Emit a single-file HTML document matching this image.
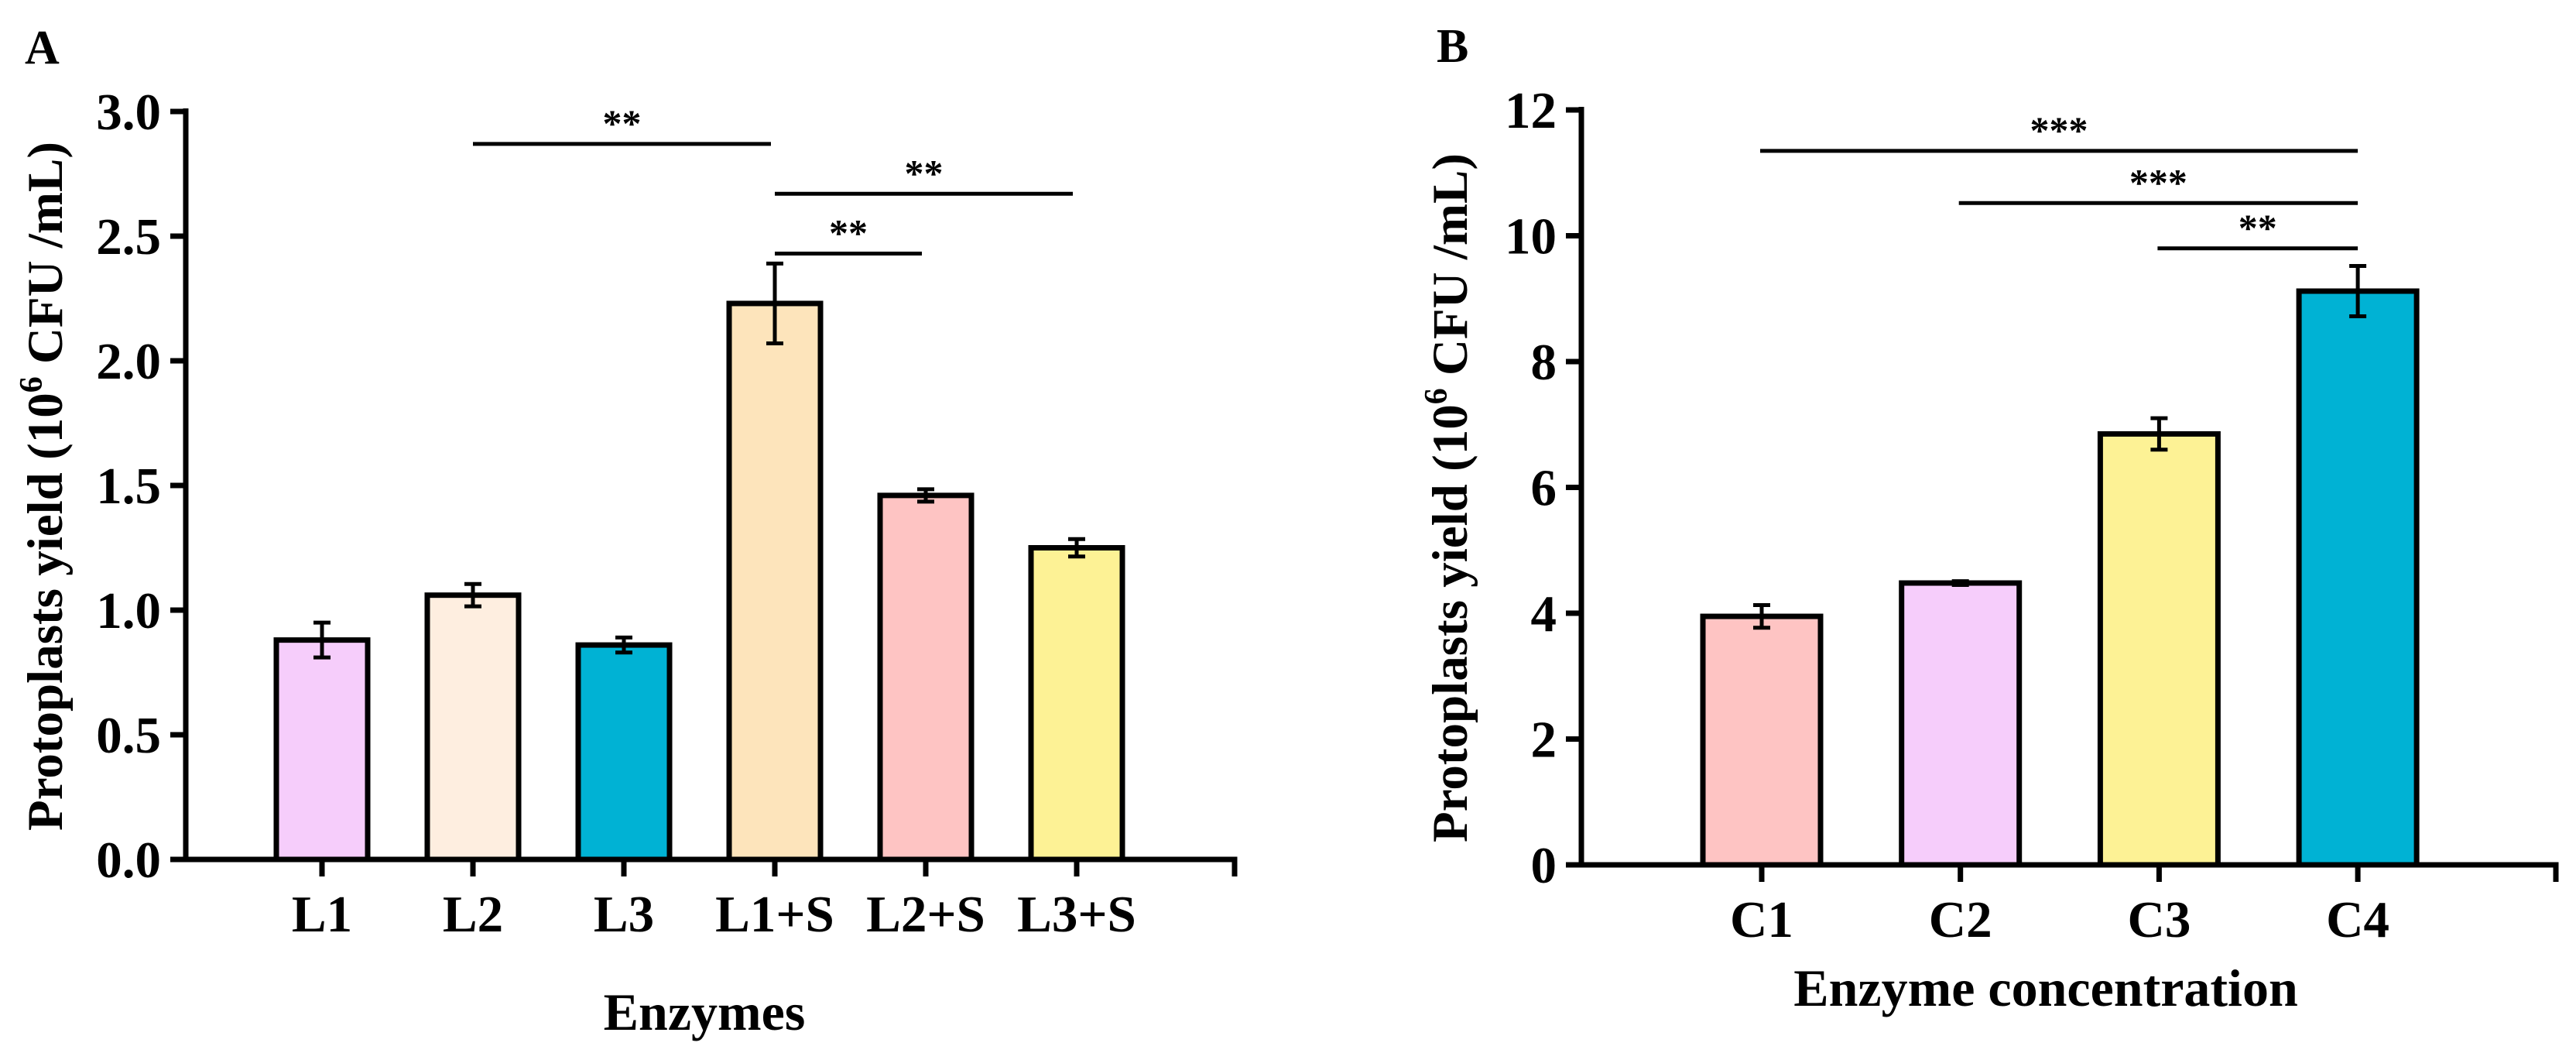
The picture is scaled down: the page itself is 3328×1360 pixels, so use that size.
<!DOCTYPE html>
<html><head><meta charset="utf-8"><style>
html,body{margin:0;padding:0;background:#fff;}
svg{display:block;}
text{font-family:"Liberation Serif",serif;font-weight:bold;fill:#000;}
</style></head><body>
<svg id="chart" width="3328" height="1360" viewBox="0 0 3328 1360" xmlns="http://www.w3.org/2000/svg"></svg>
<script>
const catsA = ["L1","L2","L3","L1+S","L2+S","L3+S"];
const valsA = [0.88,1.06,0.86,2.23,1.46,1.25];
const errA = [0.07,0.045,0.03,0.16,0.025,0.035];
const colorsA = ["#f6cdfb","#feeee0","#00b2d4","#fde4bb","#fec4c3","#fdf295"];
const ticksA = ["0.0","0.5","1.0","1.5","2.0","2.5","3.0"];
const sigA = [[1,3,2.87,"**"],[3,5,2.67,"**"],[3,4,2.43,"**"]];

const catsB = ["C1","C2","C3","C4"];
const valsB = [3.95,4.48,6.85,9.12];
const errB = [0.18,0.03,0.25,0.4];
const colorsB = ["#fec4c3","#f6cdfb","#fdf295","#00b2d4"];
const ticksB = ["0","2","4","6","8","10","12"];
const sigB = [[0,3,11.35,"***"],[1,3,10.52,"***"],[2,3,9.8,"**"]];

const NS="http://www.w3.org/2000/svg";
const svg=document.getElementById('chart');
function mk(tag,attrs,parent){const e=document.createElementNS(NS,tag);for(const k in attrs)e.setAttribute(k,attrs[k]);(parent||svg).appendChild(e);return e;}

function panel(cfg){
  const g=mk('g',{});
  
  
  const y=v=>cfg.y0-(v/cfg.max)*(cfg.y0-cfg.yTop);
  const x=i=>cfg.x0+cfg.first+i*cfg.step;
  cfg.vals.forEach((v,i)=>{
    const r=mk('rect',{x:x(i)-cfg.bw/2,y:y(v),width:cfg.bw,height:cfg.y0-y(v),fill:cfg.colors[i],stroke:'#000','stroke-width':7},g);
    
    
    const e=cfg.err[i];
    const eb=mk('path',{d:`M${x(i)},${y(v+e)}V${y(v-e)}M${x(i)-11},${y(v+e)}H${x(i)+11}M${x(i)-11},${y(v-e)}H${x(i)+11}`,stroke:'#000','stroke-width':5,fill:'none'},g);
    
    
  });
  const ax=mk('path',{d:`M${cfg.x0},${cfg.yTop-4}V${cfg.y0}H${cfg.xEnd}V${cfg.y0+22}`,stroke:'#000','stroke-width':7,fill:'none'},g);
  
  
  cfg.ticks.forEach((t,k)=>{
    const v=k*cfg.max/(cfg.ticks.length-1);
    mk('line',{x1:cfg.x0-20,x2:cfg.x0,y1:y(v),y2:y(v),stroke:'#000','stroke-width':7},g);
    const tx=mk('text',{x:cfg.x0-32,y:y(v)+23,'text-anchor':'end','font-size':67},g);
    tx.textContent=t;
    
    
  });
  cfg.cats.forEach((c,i)=>{
    mk('line',{x1:x(i),x2:x(i),y1:cfg.y0,y2:cfg.y0+22,stroke:'#000','stroke-width':7},g);
    const tx=mk('text',{x:x(i),y:cfg.y0+93,'text-anchor':'middle','font-size':67},g);
    tx.textContent=c;
    
    
  });
  cfg.sig.forEach(s=>{
    const x1=x(s[0])-cfg.sigL, x2=x(s[1])+cfg.sigR;
    const l=mk('line',{x1:x1,x2:x2,y1:y(s[2]),y2:y(s[2]),stroke:'#000','stroke-width':5},g);
    
    
    const st=mk('text',{x:(x1+x2)/2,y:y(s[2])-10,'text-anchor':'middle','font-size':50,'font-weight':'normal'},g);
    st.textContent=s[3];
    
    
  });
  const yt=mk('text',{x:0,y:0,'text-anchor':'middle','font-size':65,transform:`translate(${cfg.ytX},${cfg.ytY}) rotate(-90)`},g);
  yt.innerHTML='Protoplasts yield (10<tspan font-size="42" dy="-26">6</tspan><tspan dy="26"> CFU /mL)</tspan>';
  
  
  const xt=mk('text',{x:cfg.xtX,y:cfg.xtY,'text-anchor':'middle','font-size':68},g);
  xt.textContent=cfg.xTitle;
  
  
  const pl=mk('text',{x:cfg.lblX,y:cfg.lblY,'font-size':62},g);
  pl.textContent=cfg.label;
  
  
}
panel({name:'panel-a',cats:catsA,vals:valsA,err:errA,colors:colorsA,ticks:ticksA,sig:sigA,max:3,
  x0:240,xEnd:1595,y0:1110,yTop:144,first:176,step:195,bw:118,sigL:0,sigR:-5,
  ytX:80,ytY:628,xtX:910,xtY:1330,xTitle:'Enzymes',label:'A',lblX:32,lblY:82});
panel({name:'panel-b',cats:catsB,vals:valsB,err:errB,colors:colorsB,ticks:ticksB,sig:sigB,max:12,
  x0:2043,xEnd:3302,y0:1117,yTop:142,first:233,step:256.7,bw:152,sigL:2,sigR:0,
  ytX:1895,ytY:643,xtX:2643,xtY:1299,xTitle:'Enzyme concentration',label:'B',lblX:1856,lblY:80});
</script>
</body></html>
